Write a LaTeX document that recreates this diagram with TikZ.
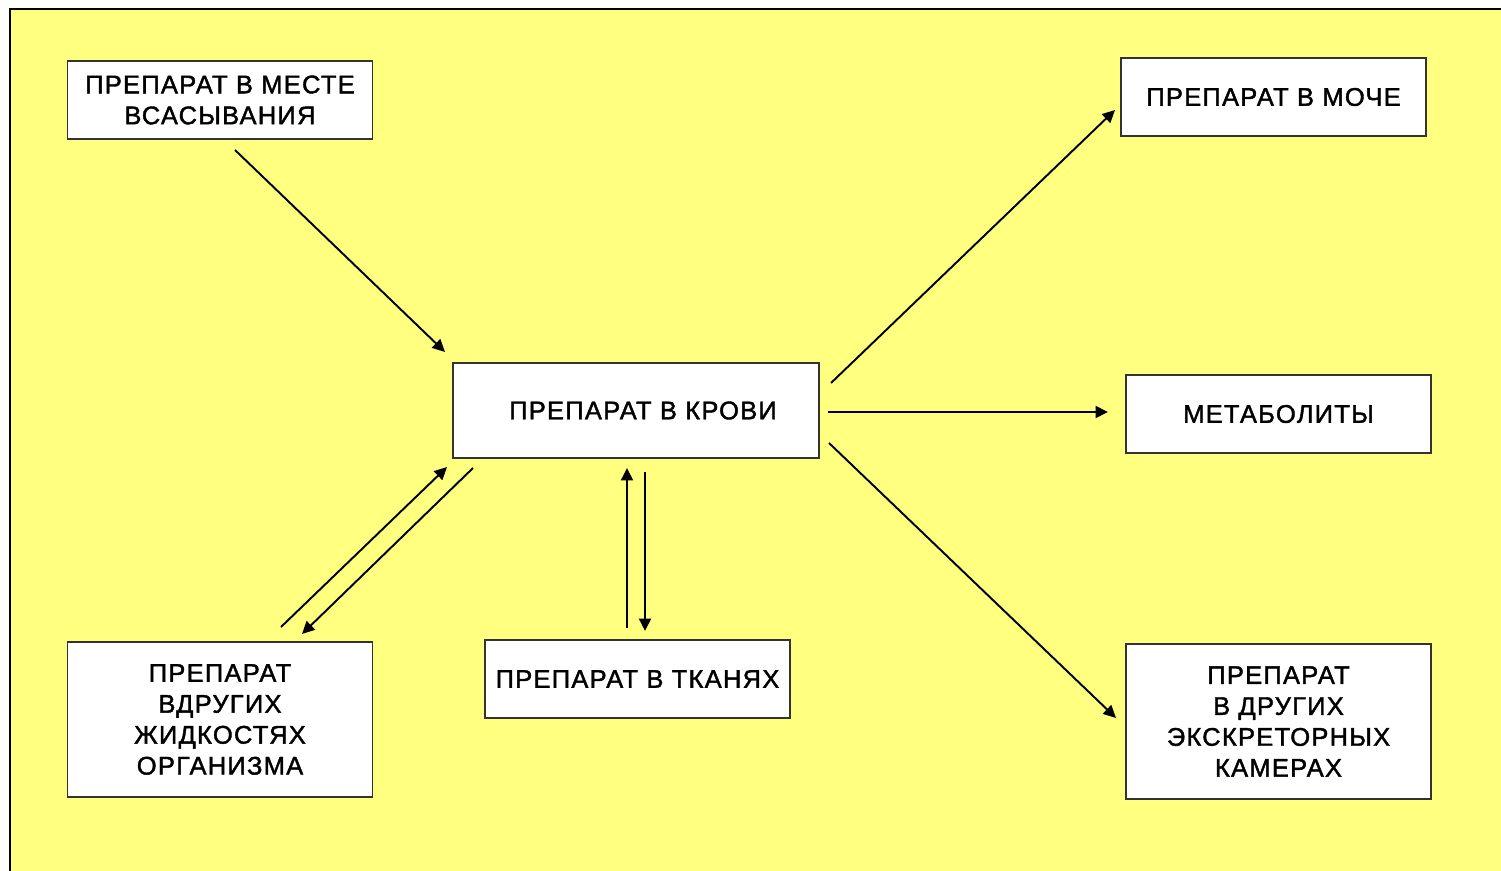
\documentclass[tikz,border=0pt]{standalone}
\usepackage{fontspec}
\setmainfont{Liberation Sans}[LetterSpace=5,FakeBold=1.6]
\usetikzlibrary{arrows.meta,positioning}
\definecolor{slideyellow}{RGB}{255,255,128}
\tikzset{>={Triangle[length=2.5mm,width=2.4mm]},
         box/.style={draw=black!80, line width=1pt, fill=white,
           minimum width=6.1cm, minimum height=1.56cm, inner sep=2pt,
           align=center, font=\fontsize{14.5}{17.6}\selectfont},
         flow/.style={->, line width=1.1pt}}

\begin{document}
\begin{tikzpicture}[x=0.02cm, y=-0.02cm]

	\useasboundingbox (0,0) rectangle (1501,871);
	\fill[slideyellow] (10,9) rectangle (1501,871);
	\draw[line width=1.2pt] (10,871) -- (10,9) -- (1501,9);

	\node[box] (vsas) at (220,100) {ПРЕПАРАТ В МЕСТЕ\\ВСАСЫВАНИЯ};
	\node[box] (moche) at (1273.5,97) {ПРЕПАРАТ В МОЧЕ};
	\node[box, minimum width=7.32cm, minimum height=1.9cm] (krov) at (636,410.5) {\hspace*{0.28cm}ПРЕПАРАТ В КРОВИ};
	\node[box] (metab) at (1278.5,414) {МЕТАБОЛИТЫ};
	\node[box, minimum height=3.1cm] (zhidk) at (220,719.5) {ПРЕПАРАТ\\ВДРУГИХ\\ЖИДКОСТЯХ\\ОРГАНИЗМА};
	\node[box] (tkani) at (637.5,679) {ПРЕПАРАТ В ТКАНЯХ};
	\node[box, minimum height=3.1cm] (ekskr) at (1278.5,721.5) {ПРЕПАРАТ\\В ДРУГИХ\\ЭКСКРЕТОРНЫХ\\КАМЕРАХ};

	\coordinate (vsas-out) at (235,150);    \coordinate (krov-in) at (445,352);
	\coordinate (krov-up) at (831,383);     \coordinate (moche-in) at (1115,110);
	\coordinate (krov-mid) at (828,412);    \coordinate (metab-in) at (1108,412);
	\coordinate (krov-down) at (829,443);   \coordinate (ekskr-in) at (1116,718);
	\coordinate (zhidk-out) at (281,627);   \coordinate (krov-sw) at (447,467);
	\coordinate (krov-back) at (473,468);   \coordinate (zhidk-in) at (302,634);
	\coordinate (tkani-out) at (627,628);   \coordinate (krov-s) at (627,468);
	\coordinate (krov-to) at (645,472);     \coordinate (tkani-in) at (645,631);

	\draw[flow] (vsas-out) -- (krov-in);
	\draw[flow] (krov-up) -- (moche-in);
	\draw[flow] (krov-mid) -- (metab-in);
	\draw[flow] (krov-down) -- (ekskr-in);
	\draw[flow] (zhidk-out) -- (krov-sw);
	\draw[flow] (krov-back) -- (zhidk-in);
	\draw[flow] (tkani-out) -- (krov-s);
	\draw[flow] (krov-to) -- (tkani-in);

\end{tikzpicture}
\end{document}
